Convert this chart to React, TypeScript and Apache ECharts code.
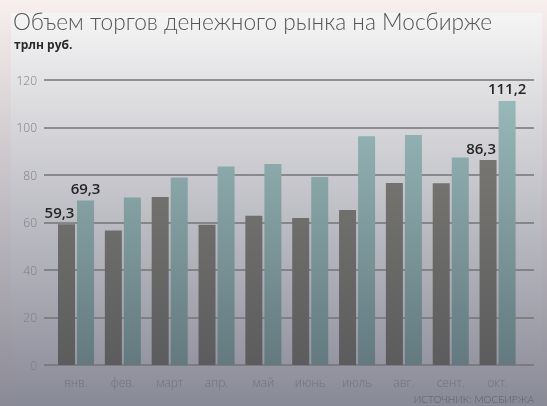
import React, { useEffect, useRef } from "react";
import * as echarts from "echarts";

const months = ["янв.", "фев.", "март", "апр.", "май", "июнь", "июль", "авг.", "сент.", "окт."];
const darkValues = [59.3, 56.6, 70.7, 59.1, 62.8, 61.9, 65.3, 76.6, 76.5, 86.3];
const lightValues = [69.3, 70.5, 78.9, 83.6, 84.6, 79.2, 96.3, 96.8, 87.4, 111.2];
const labeledIdx = [0, 9];
const yTicks = { min: 0, max: 120, interval: 20 };
const titleText = "Объем торгов денежного рынка на Мосбирже";
const unitText = "трлн руб.";
const sourceText = "ИСТОЧНИК: МОСБИРЖА";

const W = 547;
const H = 406;
const FONT = "'Open Sans', 'Noto Sans', sans-serif";
const LFONT = "Lato, 'Open Sans', sans-serif";

export default function App() {
  const ref = useRef<HTMLDivElement>(null);
  useEffect(() => {
    if (!ref.current) return;
    const chart = echarts.init(ref.current, undefined, { renderer: "svg", width: W, height: H });
    const g = (y1: number, y2: number, c1: string, c2: string) => ({
      type: "linear", x: 0, y: y1, x2: 0, y2: y2, global: true,
      colorStops: [{ offset: 0, color: c1 }, { offset: 1, color: c2 }],
    });
    const darkColor = g(80, 365, "#807f78", "#5c5c5e");
    const lightColor = g(80, 365, "#9cbdbd", "#63797f");
    const labelStyle = {
      show: true, position: "top", distance: 5,
      fontFamily: FONT, fontSize: 15, fontWeight: 600, color: "#262626",
    };
    const mk = (vals: number[], dx: number) =>
      vals.map((v, i) =>
        labeledIdx.includes(i)
          ? { value: v, label: { ...labelStyle, offset: [dx, 0], formatter: (p: any) => String(p.value).replace(".", ",") } }
          : v
      );
    chart.setOption({
      animation: false,
      backgroundColor: "transparent",
      graphic: [
        { type: "rect", z: -10, silent: true, shape: { x: 0, y: 0, width: W, height: H },
          style: { fill: g(0, H, "#f8efee", "#8a8a96") } },
        { type: "rect", z: -9, silent: true, shape: { x: 11, y: 13, width: 531, height: H - 13 },
          style: { fill: g(13, H, "#f5f5f5", "#898a97") } },
        { type: "text", left: 13, top: 10, style: { text: titleText, font: `300 22.7px ${LFONT}`, fill: "#555555" } },
        { type: "text", left: 14, top: 38, style: { text: unitText, font: `700 12px ${FONT}`, fill: "#2a2a2a" } },
        { type: "text", right: 13, top: 394, style: { text: sourceText, font: `300 10px ${LFONT}`, fill: "#5e5e6a" } },
      ],
      grid: [
        { left: 44, right: 13, top: 80, bottom: 41 },
        { left: 52.6, right: 26, top: 80, bottom: 41 },
      ],
      xAxis: [
        { type: "category", gridIndex: 0, data: months, show: false },
        {
          type: "category", gridIndex: 1, data: months,
          axisLine: { show: false }, axisTick: { show: false },
          axisLabel: { margin: 11, fontFamily: FONT, fontSize: 12, fontWeight: 300, color: "#72727e" },
        },
      ],
      yAxis: [
        {
          type: "value", gridIndex: 0, ...yTicks,
          axisLine: { show: false }, axisTick: { show: false },
          axisLabel: { margin: 7, fontFamily: FONT, fontSize: 12, fontWeight: 300, color: "#7e7e86" },
          splitLine: { lineStyle: { color: "#747474", width: 1.5 } },
        },
        { type: "value", gridIndex: 1, ...yTicks, show: false, splitLine: { show: false } },
      ],
      series: [
        { type: "bar", xAxisIndex: 1, yAxisIndex: 1, data: mk(darkValues, -7), barWidth: 17, barGap: "12%",
          itemStyle: { color: darkColor } },
        { type: "bar", xAxisIndex: 1, yAxisIndex: 1, data: mk(lightValues, 0), barWidth: 17, barGap: "12%",
          itemStyle: { color: lightColor } },
      ],
    });
    return () => chart.dispose();
  }, []);
  return <div ref={ref} style={{ position: "fixed", left: 0, top: 0, width: W, height: H }} />;
}
